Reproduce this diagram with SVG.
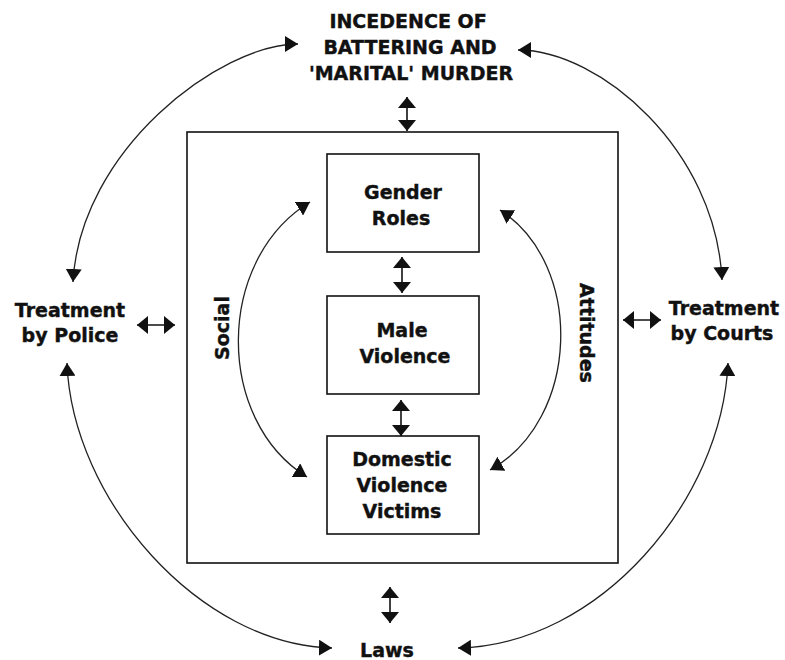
<svg xmlns="http://www.w3.org/2000/svg" width="785" height="660" viewBox="0 0 785 660">
<style>
text{font-family:"DejaVu Sans","Verdana",sans-serif;font-weight:bold;font-size:19px;fill:#111;stroke:#111;stroke-width:0.4;text-anchor:middle}
.box{fill:#fff;stroke:#111;stroke-width:1.6}
.c{fill:none;stroke:#222;stroke-width:1.3;marker-start:url(#ah);marker-end:url(#ah)}
.s{fill:none;stroke:#111;stroke-width:1.6;marker-start:url(#sh);marker-end:url(#sh)}
</style>
<defs>
<marker id="ah" viewBox="0 -8 13 16" refX="13" refY="0" markerWidth="13" markerHeight="16" markerUnits="userSpaceOnUse" orient="auto-start-reverse"><path d="M0,-8 L13,0 L0,8 z" fill="#111"/></marker>
<marker id="sh" viewBox="0 -10 11 20" refX="11" refY="0" markerWidth="11" markerHeight="20" markerUnits="userSpaceOnUse" orient="auto-start-reverse"><path d="M0,-9 L11,0 L0,9 z" fill="#111"/></marker>
</defs>
<rect width="785" height="660" fill="#fff"/>
<g id="frame"><rect class="box" x="187" y="132" width="431" height="431"/></g>
<g id="connectors">
<path class="c" d="M298,44 C220,44 80,150 73,282"/>
<path class="c" d="M518,50 C600,50 716,150 722,280"/>
<path class="c" d="M67,363 C72,500 200,645 332,648"/>
<path class="c" d="M458,648 C600,645 722,500 728,363"/>
<path class="c" d="M310,202 C215,260 215,420 307,477"/>
<path class="c" d="M500,210 C585,265 580,420 490,470"/>
<path class="s" d="M407,97 L407,131"/>
<path class="s" d="M402,257 L402,293"/>
<path class="s" d="M401,400 L401,436"/>
<path class="s" d="M390,587 L390,623"/>
<path class="s" d="M137,325 L175,325"/>
<path class="s" d="M623,320 L661,320"/>
</g>
<g id="incidence"><text x="408" y="28">INCEDENCE OF</text><text x="410" y="54">BATTERING AND</text><text x="411" y="80">'MARITAL' MURDER</text></g>
<g id="police"><text x="70" y="317">Treatment</text><text x="70" y="342">by Police</text></g>
<g id="courts"><text x="724" y="315">Treatment</text><text x="722" y="340">by Courts</text></g>
<g id="laws"><text x="387" y="657">Laws</text></g>
<g id="gender"><rect class="box" x="327" y="154" width="152" height="98"/><text x="403" y="199">Gender</text><text x="401" y="225">Roles</text></g>
<g id="male"><rect class="box" x="327" y="296" width="152" height="98"/><text x="402" y="337">Male</text><text x="405" y="363">Violence</text></g>
<g id="domestic"><rect class="box" x="327" y="436" width="152" height="98"/><text x="402" y="466">Domestic</text><text x="402" y="492">Violence</text><text x="402" y="518">Victims</text></g>
<g id="social"><text transform="translate(229,328) rotate(-90)">Social</text></g>
<g id="attitudes"><text transform="translate(580,333) rotate(90)">Attitudes</text></g>
</svg>
